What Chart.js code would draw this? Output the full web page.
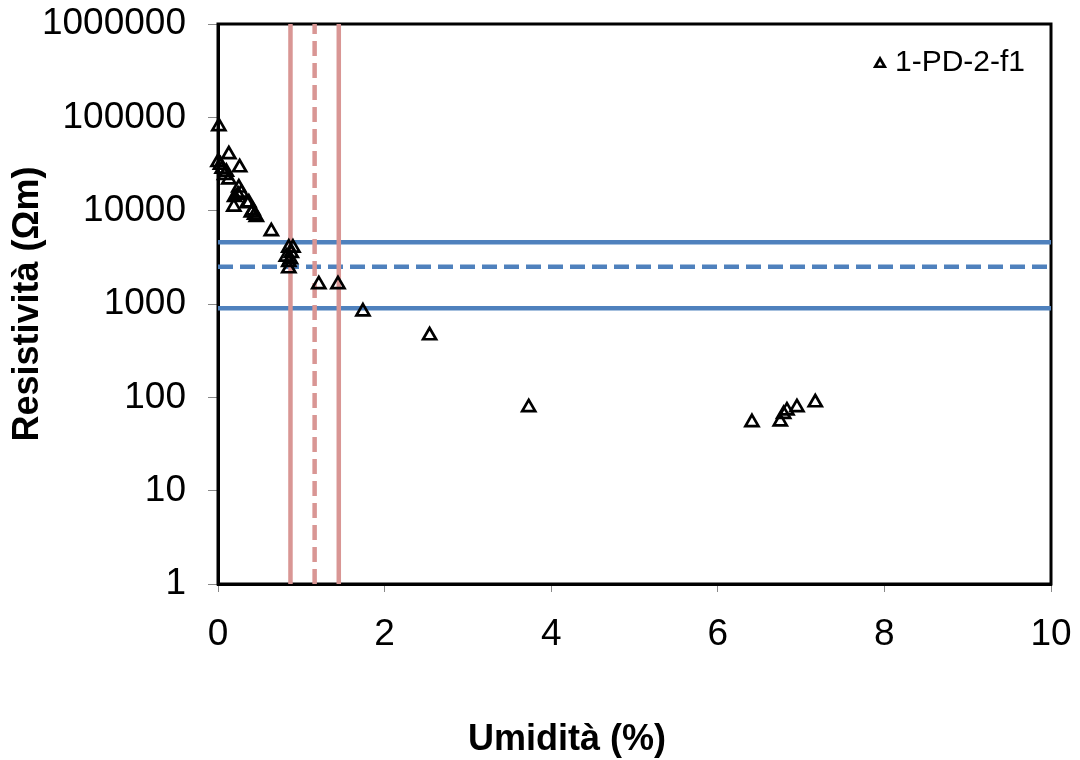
<!DOCTYPE html>
<html>
<head>
<meta charset="utf-8">
<script src="https://cdn.jsdelivr.net/npm/chart.js@4.4.1/dist/chart.umd.min.js"></script>
<style>
  html, body { margin: 0; padding: 0; background: #fff; }
  #wrap { width: 1080px; height: 760px; }
</style>
</head>
<body>
<div id="wrap"><canvas id="myChart" width="1080" height="760"></canvas></div>
<script>
var seriesName = '1-PD-2-f1';
var titoloX = 'Umidità (%)';
var titoloY = 'Resistività (Ωm)';
var umidita = [0.01, 0.13, 0.00, 0.03, 0.05, 0.26, 0.10, 0.08, 0.13, 0.25, 0.28, 0.24, 0.20, 0.19, 0.37, 0.35, 0.42, 0.40, 0.44, 0.46, 0.64,
               0.85, 0.90, 0.88, 0.82, 0.87, 0.85, 0.85, 1.21, 1.44, 1.74, 2.54, 3.73, 6.41, 6.75, 6.79, 6.83, 6.95, 7.17];
var resistivita = [80000, 40000, 33000, 31000, 28000, 29000, 26000, 24000, 21500, 17600, 15500, 14800, 14000, 11000, 12200, 12000, 10000, 9500, 9000, 8500, 6000,
                   4000, 4000, 3500, 3200, 3000, 2800, 2400, 1620, 1620, 830, 460, 78, 54, 55, 66, 72, 78, 88];

// soglie orizzontali (resistività) e verticali (umidità): [limite sup, media, limite inf]
var sogliaRes = [4600, 2500, 900];
var sogliaUmid = [0.87, 1.16, 1.45];
var xTicks = [0, 2, 4, 6, 8, 10];
var yTicks = [1, 10, 100, 1000, 10000, 100000, 1000000];

var BLU = '#4F81BD';
var ROSSO = '#D99694';
var FONT = 'Arial, "Liberation Sans", sans-serif';

var punti = umidita.map(function (x, i) { return { x: x, y: resistivita[i] }; });

function rettaOrizz(v, dashed) {
    return {
        type: 'scatter', showLine: true, pointRadius: 0,
        data: [{ x: 0, y: v }, { x: 10, y: v }],
        borderColor: BLU, borderWidth: 4.5, borderDash: dashed ? [15, 7] : []
    };
}
function rettaVert(v, dashed) {
    return {
        type: 'scatter', showLine: true, pointRadius: 0,
        data: [{ x: v, y: 1 }, { x: v, y: 1000000 }],
        borderColor: ROSSO, borderWidth: 4.5, borderDash: dashed ? [15, 7] : []
    };
}

var datasets = [{
    label: seriesName,
    data: punti,
    pointStyle: 'triangle',
    pointRadius: 7.5,
    pointBorderWidth: 2.7,
    borderColor: '#000',
    backgroundColor: 'rgba(0,0,0,0)',
    clip: false
}];
sogliaUmid.forEach(function (v, i) { datasets.push(rettaVert(v, i === 1)); });
sogliaRes.forEach(function (v, i) { datasets.push(rettaOrizz(v, i === 1)); });

// cornice nera attorno all'area del grafico, legenda interna e titolo asse x
var cornice = {
    id: 'cornice',
    beforeDatasetsDraw: function (chart) {
        var a = chart.chartArea, ctx = chart.ctx;
        ctx.save();
        ctx.strokeStyle = '#000';
        ctx.lineWidth = 3;
        ctx.strokeRect(a.left, a.top, a.right - a.left, a.bottom - a.top);
        ctx.restore();
    },
    afterDraw: function (chart) {
        var ctx = chart.ctx;
        ctx.save();
        ctx.strokeStyle = '#000';
        ctx.lineWidth = 2.7;
        Chart.helpers.drawPoint(ctx, { pointStyle: 'triangle', radius: 5.5, borderWidth: 2.7 }, 880, 64);
        ctx.fillStyle = '#000';
        ctx.font = '30px ' + FONT;
        ctx.textBaseline = 'middle';
        ctx.fillText(chart.data.datasets[0].label, 895, 63);
        ctx.font = 'bold 36px ' + FONT;
        ctx.textAlign = 'center';
        ctx.fillText(titoloX, 567, 740);
        ctx.restore();
    }
};

new Chart('myChart', {
    type: 'scatter',
    data: { datasets: datasets },
    plugins: [cornice],
    options: {
        responsive: false,
        animation: false,
        layout: { padding: { top: 24, right: 29, left: 0, bottom: 0 } },
        plugins: { legend: { display: false }, tooltip: { enabled: false } },
        scales: {
            x: {
                type: 'linear', min: 0, max: 10,
                afterFit: function (s) { s.height = 176; s.paddingLeft = 0; s.paddingRight = 0; },
                afterBuildTicks: function (s) { s.ticks = xTicks.map(function (v) { return { value: v }; }); },
                grid: { drawOnChartArea: false, drawTicks: true, tickLength: 8, color: '#888' },
                border: { color: '#000', width: 3 },
                ticks: { color: '#000', padding: 21, font: { family: FONT, size: 37 } }
            },
            y: {
                type: 'logarithmic', min: 1, max: 1000000,
                afterFit: function (s) { s.width = 218; s.paddingTop = 0; s.paddingBottom = 0; },
                afterBuildTicks: function (s) { s.ticks = yTicks.map(function (v) { return { value: v }; }); },
                grid: { drawOnChartArea: false, drawTicks: true, tickLength: 10, color: '#888' },
                border: { color: '#000', width: 3 },
                ticks: { color: '#000', padding: 22, font: { family: FONT, size: 37 },
                         callback: function (v) { return String(v); } },
                title: { display: true, text: titoloY, color: '#000', padding: { top: 6, bottom: 0 },
                         font: { family: FONT, size: 36, weight: 'bold' } }
            }
        }
    }
});
</script>
</body>
</html>
